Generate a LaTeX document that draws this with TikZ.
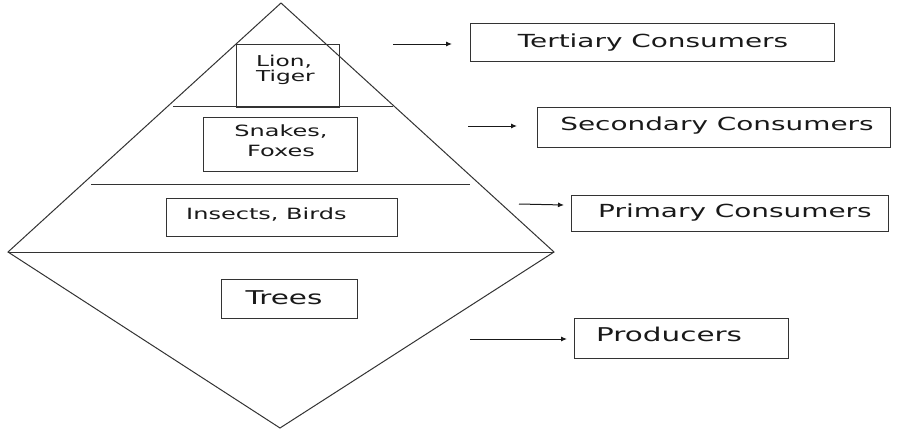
\documentclass[tikz,border=0pt]{standalone}
\usepackage{fontspec}
\usetikzlibrary{arrows.meta}
\newfontfamily\vf[FakeStretch=1.55]{DejaVu Sans}
\begin{document}
\begin{tikzpicture}[x=1pt,y=-1pt,
  ln/.style={draw=black!80,line width=1pt},
  box/.style={draw=black!80,line width=1pt,rectangle,inner sep=0pt,minimum width=#1},
  lbl/.style={inner sep=0pt,text=black!90,font=\vf\fontsize{18}{20}\selectfont},
  sml/.style={inner sep=0pt,text=black!90,font=\vf\fontsize{15}{15}\selectfont},
  big/.style={inner sep=0pt,text=black!90,font=\vf\fontsize{19}{21}\selectfont},
  arr/.style={draw=black!90,line width=1pt,-{Latex[length=6pt,width=5pt]}}]
\useasboundingbox (0,0) rectangle (911,429);
\fill[white] (0,0) rectangle (911,429);
% pyramid
\coordinate (top) at (281,3);
\coordinate (lft) at (8,252);
\coordinate (rgt) at (554,252);
\coordinate (bot) at (280,428);
\draw[ln,line join=miter] (top) -- (lft) -- (bot) -- (rgt) -- cycle;
\draw[ln] (lft) -- (rgt);
\coordinate (l1a) at (173,106);
\coordinate (l1b) at (393,106);
\coordinate (l2a) at (91,184);
\coordinate (l2b) at (470,184);
\draw[ln] (l1a) -- (l1b);
\draw[ln] (l2a) -- (l2b);
% inner boxes
\node[box=103pt,minimum height=63pt] (lionbox) at (287.5,75.5) {};
\node[sml,align=left,anchor=west] (lion) at (256,70) {Lion,\\Tiger};
\node[box=154pt,minimum height=54pt] (snakebox) at (280,144) {};
\node[sml,font=\vf\fontsize{15.5}{20}\selectfont,align=center] (snake) at (281,141) {Snakes,\\Foxes};
\node[box=231pt,minimum height=38pt] (insectbox) at (281.5,217) {};
\node[sml,font=\vf\fontsize{15.5}{18}\selectfont,anchor=base west] (insect) at (186,219) {Insects, Birds};
\node[box=136pt,minimum height=39pt] (treebox) at (289,298.5) {};
\node[big,anchor=base] (tree) at (284,304) {Trees};
% right boxes
\node[box=364pt,minimum height=38pt] (tertbox) at (652,42) {};
\node[lbl,anchor=base] (tert) at (653,47) {Tertiary Consumers};
\node[box=353pt,minimum height=40pt] (secbox) at (713.5,127) {};
\node[lbl,anchor=base] (sec) at (717,130) {Secondary Consumers};
\node[box=317pt,minimum height=36pt] (primbox) at (729.5,213) {};
\node[lbl,anchor=base west] (prim) at (598,217) {Primary Consumers};
\node[box=214pt,minimum height=40pt] (prodbox) at (681,338) {};
\node[big,anchor=base west] (prod) at (596,341) {Producers};
% arrows
\coordinate (a1s) at (393,44);
\coordinate (a1e) at (452,44);
\coordinate (a2s) at (468,126);
\coordinate (a2e) at (517,126);
\coordinate (a3s) at (519,204);
\coordinate (a3e) at (564,205);
\coordinate (a4s) at (470,339);
\coordinate (a4e) at (567,339);
\draw[arr] (a1s) -- (a1e);
\draw[arr] (a2s) -- (a2e);
\draw[arr] (a3s) -- (a3e);
\draw[arr] (a4s) -- (a4e);
\end{tikzpicture}
\end{document}
